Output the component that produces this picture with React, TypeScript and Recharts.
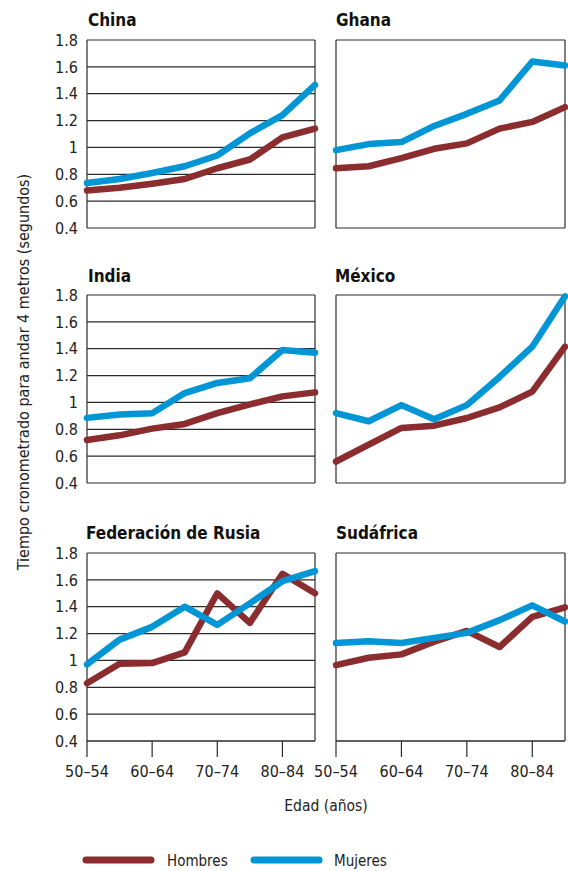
import React from 'react';
import { LineChart, Line, XAxis, YAxis, CartesianGrid } from 'recharts';

const ages = ['50–54', '55–59', '60–64', '65–69', '70–74', '75–79', '80–84', '85+'];
const yTicks = [0.4, 0.6, 0.8, 1, 1.2, 1.4, 1.6, 1.8];

const chinaHombres = [0.68, 0.70, 0.73, 0.765, 0.845, 0.91, 1.075, 1.14];
const chinaMujeres = [0.735, 0.765, 0.81, 0.86, 0.94, 1.105, 1.24, 1.465];
const ghanaHombres = [0.845, 0.86, 0.92, 0.99, 1.03, 1.14, 1.19, 1.30];
const ghanaMujeres = [0.98, 1.025, 1.04, 1.16, 1.25, 1.35, 1.64, 1.61];
const indiaHombres = [0.72, 0.755, 0.805, 0.84, 0.92, 0.985, 1.045, 1.075];
const indiaMujeres = [0.885, 0.91, 0.92, 1.07, 1.145, 1.18, 1.39, 1.37];
const mexicoHombres = [0.56, 0.685, 0.81, 0.827, 0.884, 0.963, 1.08, 1.415];
const mexicoMujeres = [0.92, 0.86, 0.98, 0.875, 0.98, 1.19, 1.415, 1.79];
const rusiaHombres = [0.83, 0.975, 0.98, 1.06, 1.50, 1.28, 1.645, 1.50];
const rusiaMujeres = [0.97, 1.155, 1.25, 1.40, 1.265, 1.425, 1.59, 1.665];
const sudafricaHombres = [0.965, 1.02, 1.045, 1.14, 1.22, 1.10, 1.325, 1.395];
const sudafricaMujeres = [1.13, 1.143, 1.13, 1.168, 1.205, 1.30, 1.41, 1.29];

const RED = '#8B2C2F';
const BLUE = '#0096D6';
const GRID = '#2b2b2b';
const FONT = "'DejaVu Sans Condensed', 'Liberation Sans Narrow', sans-serif";

type PanelProps = {
  hombres: number[];
  mujeres: number[];
  top: number;
  isLeft: boolean;
  isBottom: boolean;
};

function Panel({ hombres, mujeres, top, isLeft, isBottom }: PanelProps) {
  const data = ages.map((a, i) => ({ age: a, hombres: hombres[i], mujeres: mujeres[i] }));
  const left = isLeft ? 0 : 290;
  const width = isLeft ? 330 : 278;
  const height = 10 + 188 + (isBottom ? 50 : 12);
  const margin = isLeft
    ? { top: 10, right: 15, bottom: isBottom ? 0 : 12, left: 37 }
    : { top: 10, right: 3, bottom: isBottom ? 0 : 12, left: 46 };
  return (
    <div style={{ position: 'absolute', left, top, width, height }}>
      <LineChart width={width} height={height} data={data} margin={margin}>
        <CartesianGrid
          stroke={GRID}
          strokeWidth={1.2}
          horizontal={true}
          vertical={true}
          verticalCoordinatesGenerator={(props: any) => {
            const o = props.offset;
            return [o.left, o.left + o.width];
          }}
        />
        <XAxis
          dataKey="age"
          hide={!isBottom}
          interval={1}
          height={50}
          tickSize={16}
          tickMargin={9}
          axisLine={{ stroke: GRID }}
          tickLine={{ stroke: GRID, strokeWidth: 1.2 }}
          tick={{ fill: '#222', fontSize: 16, fontFamily: FONT }}
        />
        <YAxis
          domain={[0.4, 1.8]}
          ticks={yTicks}
          interval={0}
          width={isLeft ? 50 : 0}
          axisLine={false}
          tickLine={false}
          tickSize={0}
          tickMargin={9}
          tick={isLeft ? { fill: '#222', fontSize: 16, fontFamily: FONT } : false}
          tickFormatter={(v: number) => String(Number(v.toFixed(1)))}
        />
        <Line
          dataKey="hombres"
          stroke={RED}
          strokeWidth={6.5}
          dot={false}
          strokeLinejoin="round"
          strokeLinecap="round"
          isAnimationActive={false}
        />
        <Line
          dataKey="mujeres"
          stroke={BLUE}
          strokeWidth={6.5}
          dot={false}
          strokeLinejoin="round"
          strokeLinecap="round"
          isAnimationActive={false}
        />
      </LineChart>
    </div>
  );
}

export default function App() {
  return (
    <div style={{ position: 'absolute', left: 0, top: 0, width: 568, height: 871, background: '#fff', fontFamily: FONT }}>
      <Panel hombres={chinaHombres} mujeres={chinaMujeres} top={30} isLeft={true} isBottom={false} />
      <Panel hombres={ghanaHombres} mujeres={ghanaMujeres} top={30} isLeft={false} isBottom={false} />
      <Panel hombres={indiaHombres} mujeres={indiaMujeres} top={285} isLeft={true} isBottom={false} />
      <Panel hombres={mexicoHombres} mujeres={mexicoMujeres} top={285} isLeft={false} isBottom={false} />
      <Panel hombres={rusiaHombres} mujeres={rusiaMujeres} top={543} isLeft={true} isBottom={true} />
      <Panel hombres={sudafricaHombres} mujeres={sudafricaMujeres} top={543} isLeft={false} isBottom={true} />
      <svg width={568} height={871} style={{ position: 'absolute', left: 0, top: 0, pointerEvents: 'none' }}>
        <g fontFamily={FONT} fontWeight="bold" fontSize={17} fill="#111">
          <text x={88} y={26}>China</text>
          <text x={336} y={26}>Ghana</text>
          <text x={88} y={282}>India</text>
          <text x={335} y={282}>México</text>
          <text x={86} y={539}>Federación de Rusia</text>
          <text x={336} y={539}>Sudáfrica</text>
        </g>
        <text
          x={0}
          y={0}
          transform="translate(29,372) rotate(-90)"
          textAnchor="middle"
          fontFamily={FONT}
          fontSize={16}
          fill="#222"
        >
          Tiempo cronometrado para andar 4 metros (segundos)
        </text>
        <text x={326} y={811} textAnchor="middle" fontFamily={FONT} fontSize={15.5} fill="#222">
          Edad (años)
        </text>
        <line x1={86} y1={860} x2={151} y2={860} stroke={RED} strokeWidth={7} strokeLinecap="round" />
        <text x={167} y={866} fontFamily={FONT} fontSize={15} fill="#222">Hombres</text>
        <line x1={254} y1={860} x2={319} y2={860} stroke={BLUE} strokeWidth={7} strokeLinecap="round" />
        <text x={334} y={866} fontFamily={FONT} fontSize={15} fill="#222">Mujeres</text>
      </svg>
    </div>
  );
}
